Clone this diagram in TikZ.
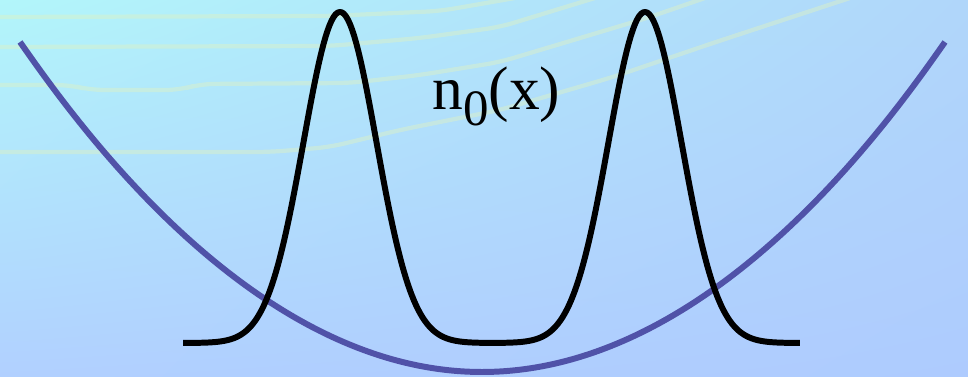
\documentclass[tikz,border=0pt]{standalone}
\usepackage{fontspec}
\setmainfont{Liberation Serif}
\usetikzlibrary{arrows.meta,positioning,shadings}
\definecolor{potblue}{RGB}{80,82,168}
\definecolor{streak}{RGB}{222,242,196}
\definecolor{bgtl}{RGB}{178,246,250}
\definecolor{bgtr}{RGB}{176,214,250}
\definecolor{bgbl}{RGB}{177,208,255}
\definecolor{bgbr}{RGB}{174,203,254}
\tikzset{streakline/.style={streak,opacity=0.45,line width=2.4pt,rounded corners=8pt}}

\begin{document}
\begin{tikzpicture}[>=Stealth,x=0.02cm,y=-0.02cm]
\useasboundingbox (0,0) rectangle (968,377);
\shade[upper left=bgtl,upper right=bgtr,lower left=bgbl,lower right=bgbr]
 (0,0) rectangle (968,377);
\begin{scope}
\clip (0,0) rectangle (968,377);
% faint streaks in the background
\draw[streakline] (0,17)--(330,16)--(440,11)--(515,-2);
\draw[streakline] (0,47)--(330,46)--(420,38)--(500,27)--(595,-2);
\draw[streakline] (0,85)--(70,85)--(90,90)--(180,90)--(200,84)--(350,83)--(420,75)--(500,62)--(647,18)--(705,-2);
\draw[streakline] (0,152)--(270,152)--(330,147)--(400,130)--(500,110)--(613,77)--(713,43)--(850,-2);
\end{scope}
\draw[potblue,line width=3.4pt] (20,42) parabola bend (482,372) (945,42);
\draw[black,line width=3.4pt,line join=round,domain=-4.3:12.6,samples=300]
 plot({340+36.5*\x},{343-331*(exp(-min(\x*\x/2,30))+exp(-min((\x-8.356)*(\x-8.356)/2,30)))});
\node[anchor=base west,inner sep=0pt,font=\fontsize{35}{42}\selectfont] (nlabel) at (432,110)
 {n\raisebox{-0.26em}{\fontsize{29}{30}\selectfont 0}(x)};
\end{tikzpicture}
\end{document}
